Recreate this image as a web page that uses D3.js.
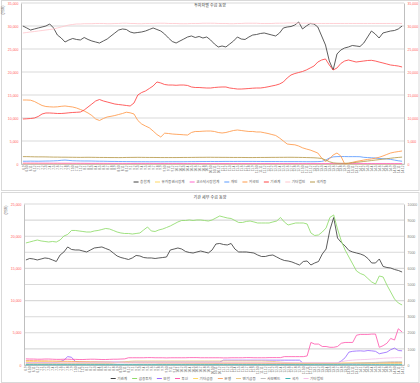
<!DOCTYPE html>
<html><head><meta charset="utf-8">
<script src="https://cdn.jsdelivr.net/npm/d3@7"></script>
<style>
body{margin:0;background:#fff}
svg{display:block}
text{font-family:"Liberation Sans","Noto Sans CJK KR",sans-serif}
</style>
</head><body>
<svg id="c" width="420" height="383"></svg>
<script>
// ---------- categories (x tick labels) ----------
const categories = ["6.9","6.10","6.11","6.12",
"7.1","7.2","7.3","7.4","7.5","7.6","7.7","7.8","7.9","7.10","7.11","7.12",
"8.1","8.2","8.3","8.4","8.5","8.6","8.7","8.8","8.9","8.10","8.11","8.12",
"9.1","9.2","9.3","9.4","9.5","9.6","9.7","9.8","9.9","9.10","9.11","9.12",
"10.1","10.2","10.3","10.4","10.5","10.6","10.7","10.8","10.9","10.10","10.11","10.12",
"11.1","11.2","11.3","11.4","11.5","11.6","11.7","11.8","11.9","11.10","11.11","11.12",
"12.1","12.2","12.3","12.4","12.5","12.6","12.7","12.8","12.9","12.10","12.11","12.12",
"13.1","13.2","13.3","13.4","13.5","13.6","13.7","13.8","13.9","13.10","13.11","13.12",
"14.1","14.2","14.3","14.4","14.5","14.6","14.7","14.8","14.9","14.10","14.11","14.12"];

// ---------- top panel ----------
const topTitle = "투자자별 수급 동향";
const topUnit = "(억원)";
const topLeftTicks = [0,5000,10000,15000,20000,25000,30000,35000];
const topRightTicks = [0,5000,10000,15000,20000,25000,30000,35000];
const topNames = ["총합계","유가증권시장계","코스닥시장합계","개인","외국인","기관계","기타법인","국가등"];

const topTotal = [30000,29570,29130,29350,29570,29780,30000,30440,29570,28040,
27390,26520,26960,27280,27070,26960,27500,27070,26740,26520,
26300,26740,27170,27830,28480,29130,29350,29240,28700,28480,
28590,28700,28910,29240,29570,29240,28910,28260,27390,26630,
26300,26740,27170,27610,27830,27500,27720,27390,27610,26960,
26090,25440,25650,25440,26090,26740,27610,27170,27070,27610,
28040,28150,28370,28480,28260,28040,27830,28480,29570,29780,
29890,30220,30870,29350,30000,30540,30440,29780,27830,25870,
22390,20440,23910,24780,25220,25440,25760,25650,25540,26300,
27610,28910,28260,27390,28480,28700,28910,29020,29350,30000];
const topKospi = [80,80,75,75,70,70,70,70,65,65,
65,60,60,60,60,60,55,55,55,55,
55,55,50,50,50,50,50,50,50,50,
50,50,50,45,45,45,45,45,45,45,
45,45,45,45,45,40,40,40,40,40,
40,40,40,40,40,40,40,40,40,40,
40,40,40,40,40,40,40,40,40,40,
40,40,40,40,40,40,40,40,40,40,
40,40,40,40,40,40,40,40,40,40,
40,40,40,40,40,40,40,40,40,40];
const topKosdaq = [200,200,190,190,180,180,180,170,170,170,
160,160,160,150,150,150,150,140,140,140,
140,140,130,130,130,130,130,120,120,120,
120,120,120,120,120,110,110,110,110,110,
110,110,110,110,110,110,100,100,100,100,
100,100,100,100,100,100,100,100,100,100,
100,100,100,100,100,100,100,100,100,100,
100,100,100,100,100,100,100,100,100,100,
100,100,100,100,100,100,100,100,100,100,
100,100,100,100,100,100,100,100,100,100];
const topPersonal = [600,600,620,610,600,620,640,650,680,720,
800,850,780,700,680,660,650,650,640,620,
600,600,580,560,560,540,540,520,520,500,
500,500,500,490,500,500,480,490,500,500,
500,490,500,510,520,520,530,540,540,550,
540,540,550,560,560,550,560,560,560,560,
560,550,550,540,540,540,540,530,520,520,
520,520,520,510,500,500,500,520,560,800,
1300,1550,1600,1620,1620,1600,1600,1600,1580,1450,
1400,1350,1300,1200,1150,1100,1000,850,700,600];
const topForeign = [13910,13910,13870,13590,13150,12720,12500,12430,12390,12430,
12540,12610,12500,12390,12170,11850,11520,11090,10540,9780,
9460,9890,10220,10370,10540,10760,10980,11260,11130,10870,
9460,8700,8260,7870,7170,6410,5870,6700,6630,6520,
6460,6410,6350,6300,6850,7070,7070,7130,7170,7170,
7070,6850,6740,6850,7070,7280,7390,7280,7170,7070,
7070,6960,6960,6800,6630,6410,6200,5650,5000,4350,
4240,4170,3910,3520,3260,3040,2720,2390,1300,540,
1090,1960,2390,1740,40,150,350,550,700,850,
1000,1100,1260,1460,1740,2070,2390,2570,2700,2830];
const topInst = [9780,9830,9890,10000,10330,10870,11090,11090,11040,10980,
10980,11040,11130,11200,11240,11300,11740,12390,13040,13700,
14020,13700,13480,13260,13040,12930,12830,12720,12610,13260,
15000,15540,15870,16410,16960,17830,17610,17280,17170,17170,
17110,17170,17170,17070,16740,16630,16630,16570,16520,16520,
16630,16700,16740,16740,16520,16410,16300,16300,16350,16410,
16480,16520,16520,16630,16780,16960,17130,17390,17830,18700,
19350,19670,19890,20110,20440,20870,21300,22170,22610,22830,
21520,20440,20870,21850,22390,22610,22390,22170,22280,22390,
22500,22540,22390,22170,21960,21740,21520,21410,21300,21090];
const topOtherCorp = [28480,28590,28700,28800,28910,29020,29130,29240,29350,29570,
29780,30000,30220,30330,30440,30440,30500,30500,30500,30550,
30550,30550,30500,30500,30550,30550,30600,30600,30550,30550,
30500,30500,30550,30550,30550,30600,30600,30600,30550,30550,
30550,30500,30500,30500,30550,30550,30550,30600,30600,30600,
30600,30550,30550,30550,30500,30500,30550,30550,30600,30600,
30600,30600,30550,30550,30550,30550,30600,30600,30600,30650,
30650,30650,30600,30600,30600,30600,30550,30550,30550,30550,
30550,30550,30550,30550,30550,30550,30550,30550,30550,30550,
30550,30550,30550,30550,30550,30550,30550,30550,30550,30550];
const topState = [1600,1600,1580,1560,1550,1550,1540,1520,1500,1500,
1480,1480,1470,1460,1450,1440,1450,1460,1450,1440,
1420,1420,1410,1400,1400,1390,1400,1420,1430,1440,
1450,1440,1430,1420,1420,1410,1400,1400,1400,1400,
1400,1410,1420,1420,1430,1440,1450,1450,1460,1460,
1450,1450,1440,1440,1430,1420,1420,1420,1410,1400,
1400,1410,1420,1420,1430,1440,1440,1450,1450,1460,
1460,1450,1440,1420,1400,1380,1350,1300,1200,900,
500,250,180,150,150,180,250,350,450,550,
650,750,850,950,1050,1150,1250,1350,1430,1500];

// ---------- bottom panel ----------
const botTitle = "기관 세부 수급 동향";
const botUnit = "(억원)";
const botLeftTicks = [0,5000,10000,15000,20000,25000];
const botRightTicks = [0,1000,2000,3000,4000,5000,6000,7000,8000,9000,10000];
const botNames = ["기관계","금융투자","보험","투신","기타금융","은행","연기금등","사모펀드","국가","기타법인"];

const botInst = [16310,16540,16460,16310,16460,16620,16540,16310,16070,17080,
17550,18330,17940,17860,17860,17700,17550,17860,18170,18250,
18330,18090,17860,17390,16930,16690,16540,16380,16620,17010,
16930,16690,16620,16620,16540,16620,16690,16770,17860,18010,
18170,18010,17630,17470,17390,17550,17700,17550,17390,17860,
18790,18870,18710,18640,18870,18010,17550,17550,17550,17470,
17390,17080,16850,16850,17010,17080,16770,16460,16230,16150,
16000,15760,15530,16070,16150,15530,15840,16070,17240,18010,
20970,22900,19720,19020,18480,17780,17550,17390,17240,17010,
16540,15840,15840,16460,15300,15140,15060,14830,14680,14440];
const botFinInv = [18950,19100,19260,19410,19260,19180,19100,19180,19100,19410,
20030,20270,20890,20890,20810,20730,20650,20650,20810,20890,
21040,21200,21120,20890,20650,20500,20420,20420,20340,20420,
20500,20970,21430,20810,20730,20970,21120,21350,21590,21900,
22210,22440,22440,22520,22440,22520,22520,22440,22360,22520,
22830,23140,22980,22830,22750,22440,22130,22130,22290,22360,
22210,22050,22050,22050,22050,22210,22360,22910,22210,21740,
21900,22050,22050,22050,21900,20500,20110,20190,20650,21280,
22910,23300,21120,19260,17860,16770,15690,14600,14210,13980,
13430,12890,12580,13820,13670,12420,11340,10250,9630,9320];
const botInsur = [150,150,140,150,160,150,140,150,160,200,
300,520,480,220,180,180,170,170,180,180,
180,180,180,180,180,180,180,180,180,180,
180,180,180,180,180,180,180,180,180,180,
180,180,180,180,180,180,180,180,180,180,
180,180,300,300,300,300,300,300,300,300,
300,300,300,300,300,300,300,300,300,300,
300,300,300,100,100,100,100,100,100,100,
100,100,120,250,450,800,850,870,880,860,
900,880,850,700,750,800,950,1050,900,880];
const botTrust = [380,370,370,360,360,370,370,360,350,350,
360,360,350,350,340,340,350,360,360,350,
340,340,350,360,360,370,380,450,450,450,
450,450,460,460,450,450,450,440,450,450,
450,450,450,460,460,460,450,450,450,450,
450,450,440,440,450,450,450,450,460,460,
450,450,450,450,460,460,460,460,520,520,
520,520,520,520,560,1400,1300,1300,1150,1150,
1100,1100,1150,1350,1400,1400,1400,1850,1900,1900,
1900,1920,1920,1100,1200,1350,1650,1550,2250,2050];
const botOtherFin = [220,220,220,210,210,210,200,200,200,200,
190,190,190,190,180,180,180,180,170,170,
170,170,170,160,160,160,160,160,150,150,
150,150,150,150,150,140,140,140,140,140,
140,140,140,140,140,130,130,130,130,130,
130,130,130,130,130,130,130,130,130,130,
130,130,130,120,120,120,120,120,120,120,
120,120,120,120,120,120,120,120,120,120,
120,120,120,120,120,120,120,120,120,120,
120,120,120,120,120,120,120,120,120,120];
const botBank = [280,280,270,270,260,260,250,250,240,240,
230,230,220,220,210,200,200,190,190,180,
180,170,170,160,160,160,150,150,150,150,
140,140,140,140,140,130,130,130,130,130,
130,130,120,120,120,120,120,120,120,120,
110,110,110,110,110,110,110,110,110,110,
110,110,110,110,100,100,100,100,100,100,
100,100,100,100,100,100,100,100,100,100,
100,100,100,100,110,110,110,120,120,120,
130,130,130,140,140,140,150,150,160,160];
const botPension = [100,100,100,100,100,100,100,100,100,100,
100,100,100,100,100,100,100,100,100,100,
100,100,100,120,150,180,200,220,240,250,
250,250,250,250,250,250,250,250,250,250,
250,250,250,250,250,250,250,250,250,250,
250,250,250,250,250,250,250,250,250,250,
250,250,250,240,230,220,200,180,160,140,
120,100,100,100,100,100,100,100,100,100,
100,100,100,100,100,100,100,100,100,100,
100,100,100,100,100,100,100,100,100,100];
const botPrivate = [50,50,50,50,50,50,50,50,50,50,
50,50,50,50,50,50,50,50,50,50,
50,50,50,50,50,50,50,50,50,50,
50,50,50,50,50,50,50,50,50,50,
50,50,50,50,50,50,50,50,50,50,
50,50,50,50,50,50,50,50,50,50,
50,50,50,50,50,50,50,50,50,50,
50,50,50,50,50,50,60,60,60,60,
60,60,60,70,80,90,100,110,120,130,
140,150,160,170,180,190,200,200,200,200];
const botState = [20,20,20,20,20,20,20,20,20,20,
20,20,20,20,20,20,20,20,20,20,
20,20,20,20,20,20,20,20,20,20,
20,20,20,20,20,20,20,20,20,20,
20,20,20,20,20,20,20,20,20,20,
20,20,20,20,20,20,20,20,20,20,
20,20,20,20,20,20,20,20,20,20,
20,20,20,20,20,20,20,20,20,20,
20,20,20,20,20,20,20,20,20,20,
20,20,20,20,20,20,20,20,20,20];
const botOtherCorp = [150,150,150,150,150,150,150,150,150,150,
150,150,150,150,150,150,150,150,150,150,
150,150,150,150,150,150,150,150,150,150,
150,150,150,150,150,150,150,150,150,150,
150,150,150,150,150,150,150,150,150,150,
150,150,150,150,150,150,150,150,150,150,
150,150,150,150,150,150,150,150,150,150,
150,150,150,150,150,150,150,150,150,150,
150,150,150,200,250,280,300,320,330,340,
350,370,380,400,420,430,440,450,460,450];

// ---------- drawing ----------
const svg = d3.select('#c');
svg.append('rect').attr('width',420).attr('height',383).attr('fill','#fff');

function drawPanel(p) {
  const g = svg.append('g');
  g.append('rect').attr('x',p.box[0]).attr('y',p.box[1]).attr('width',p.box[2]).attr('height',p.box[3])
    .attr('fill','none').attr('stroke','#d9d9d9').attr('stroke-width',1);

  const x = d3.scalePoint().domain(categories).range([p.left,p.right]).padding(0.5);
  const yL = d3.scaleLinear().domain([0,p.leftTicks[p.leftTicks.length-1]]).range([p.bottom,p.top]);
  const yR = d3.scaleLinear().domain([0,p.rightTicks[p.rightTicks.length-1]]).range([p.bottom,p.top]);
  const gridScale = p.gridOnRight ? yR : yL;
  const gridTicks = p.gridOnRight ? p.rightTicks : p.leftTicks;

  g.append('g').selectAll('line').data(gridTicks).join('line')
    .attr('x1',p.left).attr('x2',p.right)
    .attr('y1',d=>gridScale(d)).attr('y2',d=>gridScale(d))
    .attr('stroke','#d9d9d9').attr('stroke-width',1.1);

  const la = g.append('g').attr('transform',`translate(${p.left},0)`)
    .call(d3.axisLeft(yL).tickValues(p.leftTicks).tickSize(0).tickSizeOuter(0).tickPadding(2.5).tickFormat(p.leftFmt));
  la.attr('font-size',3.5).attr('font-family',null);
  la.select('.domain').attr('stroke','#bfbfbf');
  la.selectAll('text').attr('fill',p.leftColor);

  const ra = g.append('g').attr('transform',`translate(${p.right},0)`)
    .call(d3.axisRight(yR).tickValues(p.rightTicks).tickSize(0).tickSizeOuter(0).tickPadding(3.5).tickFormat(p.rightFmt));
  ra.attr('font-size',3.5).attr('font-family',null);
  ra.select('.domain').attr('stroke','#bfbfbf');
  ra.selectAll('text').attr('fill',p.rightColor);

  const xa = g.append('g').attr('transform',`translate(0,${p.bottom})`)
    .call(d3.axisBottom(x).tickSize(0).tickSizeOuter(0));
  xa.attr('font-size',3.1).attr('font-family',null);
  xa.select('.domain').attr('stroke','#bfbfbf');
  xa.selectAll('text')
    .attr('transform','rotate(-90)').attr('x',-1.5).attr('y',0).attr('dy','0.35em')
    .attr('text-anchor','end').attr('fill','#595959');

  p.series.forEach(s => {
    const sc = s.axis === 'right' ? yR : yL;
    const line = d3.line().x((d,i)=>x(categories[i])).y(d=>sc(d));
    g.append('path').datum(s.values).attr('d',line)
      .attr('fill','none').attr('stroke',s.color).attr('stroke-width',0.85)
      .attr('stroke-linejoin','round');
  });

  g.append('text').attr('x',p.titleX).attr('y',p.titleY).attr('text-anchor','middle')
    .attr('font-size',4).attr('fill','#404040').text(p.title);
  g.append('text').attr('transform',`translate(${p.unitX},${p.unitY}) rotate(-90)`)
    .attr('text-anchor','middle').attr('font-size',3.5).attr('fill','#595959').text(p.unit);

  const lg = g.append('g');
  let xpos = 0;
  p.series.forEach(s => {
    const ig = lg.append('g').attr('transform',`translate(${xpos},0)`);
    ig.append('line').attr('x1',0).attr('x2',5).attr('y1',0).attr('y2',0)
      .attr('stroke',s.color).attr('stroke-width',1);
    const t = ig.append('text').attr('x',6.5).attr('y',0).attr('dy','0.35em')
      .attr('font-size',3.6).attr('fill','#595959').text(s.name);
    xpos += 6.5 + t.node().getComputedTextLength() + 5;
  });
  const w = xpos - 5;
  lg.attr('transform',`translate(${p.legendCX - w/2},${p.legendY})`);
}

const topColors = ['#404040','#ffd966','#ff66cc','#5b9bff','#ff9a4a','#ff4545','#ffc7ce','#b79b4c'];
const topVals = [topTotal,topKospi,topKosdaq,topPersonal,topForeign,topInst,topOtherCorp,topState];
drawPanel({
  box:[1.5,0.5,417.5,190], left:21, right:404, top:3, bottom:164,
  leftTicks:topLeftTicks, rightTicks:topRightTicks, gridOnRight:false,
  leftFmt:d3.format(','), rightFmt:d3.format(','),
  leftColor:'#ff5b5b', rightColor:'#ff5b5b',
  title:topTitle, titleX:210, titleY:6.5, unit:topUnit, unitX:4, unitY:10,
  legendCX:230, legendY:182,
  series: topNames.map((n,i)=>({name:n, color:topColors[i], values:topVals[i], axis:'left'}))
});

const botColors = ['#404040','#8fdc6a','#9b6bff','#ff5cb0','#ffd966','#f8a86a','#eccb85','#bfbfbf','#3cb4b4','#f4c2e8'];
const botVals = [botInst,botFinInv,botInsur,botTrust,botOtherFin,botBank,botPension,botPrivate,botState,botOtherCorp];
const botAxis = ['left','left','right','right','right','right','right','right','right','right'];
drawPanel({
  box:[1.5,192.5,417.5,190], left:24, right:404, top:204, bottom:365,
  leftTicks:botLeftTicks, rightTicks:botRightTicks, gridOnRight:true,
  leftFmt:d3.format(','), rightFmt:d3.format('d'),
  leftColor:'#ff5b5b', rightColor:'#7f7f7f',
  title:botTitle, titleX:210, titleY:198.5, unit:botUnit, unitX:7, unitY:210,
  legendCX:217, legendY:378.5,
  series: botNames.map((n,i)=>({name:n, color:botColors[i], values:botVals[i], axis:botAxis[i]}))
});
</script>
</body></html>
